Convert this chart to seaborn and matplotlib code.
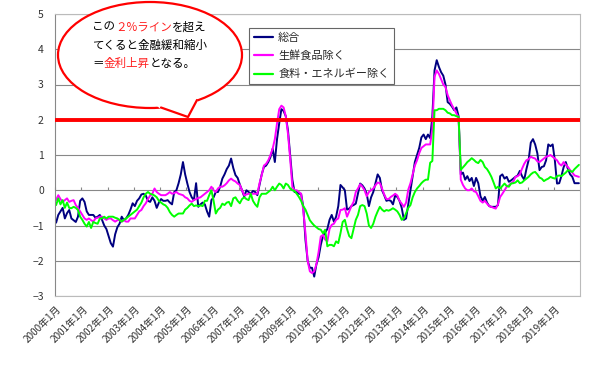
import numpy as np
import pandas as pd
import seaborn as sns
import matplotlib.pyplot as plt
from matplotlib.patches import Ellipse, Polygon
from matplotlib.lines import Line2D

# CPI YoY (%), monthly Jan 2000 - Dec 2019
years = list(range(2000, 2020))
series_names = ['総合', '生鮮食品除く', '食料・エネルギー除く']

headline = [
    -0.92, -0.7, -0.6, -0.5, -0.8, -0.65, -0.56, -0.8, -0.85, -0.9, -0.75, -0.3,
    -0.23, -0.33, -0.6, -0.7, -0.7, -0.7, -0.78, -0.75, -0.7, -0.84, -1.0, -1.1,
    -1.3, -1.5, -1.6, -1.25, -1.05, -0.95, -0.75, -0.85, -0.8, -0.7, -0.55, -0.37,
    -0.45, -0.3, -0.23, -0.12, -0.1, -0.15, -0.3, -0.33, -0.2, -0.3, -0.5, -0.35,
    -0.25, -0.3, -0.3, -0.28, -0.35, -0.4, -0.05, 0.0, 0.2, 0.45, 0.8, 0.45,
    0.19, -0.05, -0.2, -0.28, 0.2, -0.47, -0.4, -0.35, -0.4, -0.6, -0.75, -0.28,
    -0.2, -0.05, -0.05, 0.1, 0.33, 0.45, 0.6, 0.7, 0.9, 0.63, 0.43, 0.35,
    0.16, 0.0, -0.18, 0.0, -0.05, -0.1, -0.02, -0.05, -0.14, 0.15, 0.45, 0.66,
    0.7, 0.8, 0.94, 1.18, 0.8, 1.45, 1.9, 2.3, 2.25, 2.1, 1.7, 1.0,
    0.3, -0.05, -0.05, -0.1, -0.1, -0.47, -1.41, -2.0, -2.2, -2.2, -2.45, -2.1,
    -1.9, -1.55, -1.3, -1.2, -1.1, -0.84, -0.7, -0.89, -0.75, -0.45, 0.15, 0.08,
    0.0, -0.55, -0.52, -0.45, -0.42, -0.38, -0.1, 0.19, 0.14, 0.05, -0.1, -0.45,
    -0.2, -0.05, 0.2, 0.45, 0.35, 0.0, -0.14, -0.3, -0.28, -0.3, -0.4, -0.15,
    -0.19, -0.3, -0.5, -0.84, -0.8, -0.4, 0.0, 0.4, 0.8, 1.0, 1.2, 1.5,
    1.58, 1.45, 1.58, 1.48, 2.1, 3.4, 3.69, 3.5, 3.35, 3.25, 3.0, 2.5,
    2.45, 2.37, 2.27, 2.35, 2.1, 0.45, 0.5, 0.3, 0.4, 0.26, 0.35, 0.12,
    0.35, 0.2, -0.17, -0.3, -0.19, -0.35, -0.45, -0.47, -0.47, -0.47, -0.42, 0.4,
    0.45, 0.33, 0.38, 0.24, 0.28, 0.33, 0.38, 0.42, 0.55, 0.4, 0.3, 0.6,
    0.85, 1.35, 1.45, 1.3, 1.05, 0.57, 0.66, 0.68, 0.85, 1.3, 1.25, 1.3,
    0.85, 0.19, 0.2, 0.4, 0.65, 0.8, 0.6, 0.45, 0.38, 0.2, 0.2, 0.2,
]

core = [
    -0.28, -0.14, -0.25, -0.33, -0.28, -0.23, -0.33, -0.3, -0.28, -0.42, -0.5, -0.6,
    -0.7, -0.8, -0.84, -0.8, -0.85, -0.89, -0.8, -0.78, -0.75, -0.75, -0.8, -0.84,
    -0.8, -0.8, -0.85, -0.89, -0.85, -0.84, -0.89, -0.85, -0.89, -0.89, -0.8, -0.8,
    -0.8, -0.7, -0.6, -0.56, -0.45, -0.37, -0.25, -0.15, -0.1, 0.05, -0.05, -0.1,
    -0.14, -0.14, -0.14, -0.1, -0.05, -0.1, -0.08, -0.05, -0.1, -0.12, -0.14, -0.2,
    -0.23, -0.3, -0.33, -0.28, -0.25, -0.22, -0.2, -0.15, -0.1, -0.05, 0.0, 0.1,
    0.0, -0.05, 0.05, 0.1, 0.1, 0.14, 0.2, 0.28, 0.33, 0.28, 0.25, 0.19,
    0.15, 0.0, -0.14, -0.12, -0.1, -0.1, -0.1, -0.1, -0.1, 0.2, 0.43, 0.7,
    0.75, 0.85, 1.0, 1.18, 1.45, 1.9, 2.3, 2.4, 2.35, 2.1, 1.6, 0.9,
    0.1, 0.0, 0.0, -0.05, -0.1, -0.57, -1.22, -2.0, -2.3, -2.35, -2.3, -2.1,
    -1.75, -1.31, -1.27, -1.4, -1.45, -1.1, -0.98, -0.95, -0.84, -0.8, -0.56, -0.55,
    -0.51, -0.75, -0.6, -0.45, -0.33, -0.05, 0.05, 0.17, 0.1, 0.0, -0.17, -0.05,
    0.0, 0.05, 0.14, 0.22, 0.2, 0.05, -0.12, -0.25, -0.25, -0.19, -0.15, -0.1,
    -0.15, -0.3, -0.38, -0.47, -0.35, 0.02, 0.2, 0.45, 0.7, 0.85, 1.05, 1.2,
    1.25, 1.3, 1.3, 1.3, 1.72, 3.22, 3.4, 3.3, 3.15, 3.0, 2.93, 2.7,
    2.55, 2.41, 2.3, 2.18, 2.07, 0.3, 0.15, 0.05, 0.0, 0.0, 0.05, -0.03,
    -0.05, -0.17, -0.3, -0.35, -0.3, -0.38, -0.45, -0.47, -0.5, -0.52, -0.4, -0.19,
    -0.1, 0.0, 0.1, 0.14, 0.2, 0.24, 0.38, 0.4, 0.45, 0.61, 0.75, 0.85,
    0.88, 0.95, 0.92, 0.9, 0.82, 0.8, 0.85, 0.9, 0.95, 0.97, 1.0, 0.95,
    0.9, 0.85, 0.75, 0.7, 0.8, 0.72, 0.66, 0.57, 0.5, 0.42, 0.4, 0.38,
]

core_core = [
    -0.42, -0.23, -0.4, -0.28, -0.5, -0.35, -0.5, -0.51, -0.47, -0.5, -0.56, -0.75,
    -0.84, -0.95, -1.03, -0.9, -1.07, -0.9, -0.93, -0.95, -0.8, -0.8, -0.75, -0.8,
    -0.75, -0.75, -0.75, -0.78, -0.8, -0.84, -0.89, -0.84, -0.8, -0.75, -0.7, -0.65,
    -0.6, -0.55, -0.45, -0.35, -0.2, -0.1, -0.05, -0.1, -0.12, -0.15, -0.2, -0.3,
    -0.35, -0.4, -0.43, -0.5, -0.62, -0.7, -0.75, -0.7, -0.66, -0.66, -0.66, -0.55,
    -0.5, -0.43, -0.38, -0.45, -0.43, -0.45, -0.43, -0.45, -0.3, -0.3, -0.14, 0.0,
    -0.3, -0.66, -0.55, -0.5, -0.38, -0.42, -0.35, -0.33, -0.45, -0.23, -0.2, -0.3,
    -0.37, -0.25, -0.2, -0.25, -0.28, -0.1, -0.3, -0.4, -0.47, -0.2, -0.1, -0.1,
    -0.1, -0.05, 0.0, 0.1, 0.0, 0.1, 0.19, 0.15, 0.05, 0.19, 0.15, 0.05,
    0.0, -0.02, -0.1, -0.19, -0.3, -0.45, -0.55, -0.7, -0.85, -0.93, -1.0, -1.05,
    -1.1, -1.12, -1.22, -1.12, -1.59, -1.55, -1.55, -1.59, -1.45, -1.5, -1.22, -0.9,
    -0.84, -1.1, -1.3, -1.36, -1.1, -0.84, -0.7, -0.45, -0.42, -0.45, -0.66, -1.0,
    -1.07, -0.95, -0.75, -0.6, -0.47, -0.55, -0.6, -0.56, -0.58, -0.55, -0.51, -0.55,
    -0.6, -0.7, -0.84, -0.8, -0.65, -0.5, -0.42, -0.2, -0.05, 0.05, 0.12, 0.2,
    0.26, 0.3, 0.3, 0.78, 0.83, 2.27, 2.27, 2.31, 2.31, 2.31, 2.27, 2.2,
    2.18, 2.13, 2.13, 2.1, 2.08, 0.58, 0.65, 0.72, 0.8, 0.85, 0.91, 0.86,
    0.8, 0.77, 0.86, 0.8, 0.66, 0.6, 0.5, 0.38, 0.22, 0.05, 0.1, 0.05,
    0.12, 0.19, 0.12, 0.1, 0.19, 0.2, 0.22, 0.28, 0.2, 0.22, 0.28, 0.33,
    0.38, 0.45, 0.5, 0.52, 0.45, 0.36, 0.33, 0.26, 0.3, 0.33, 0.38, 0.35,
    0.33, 0.4, 0.42, 0.4, 0.45, 0.5, 0.57, 0.55, 0.52, 0.6, 0.66, 0.72,
]

colors = ['#000080', '#FF00FF', '#00FF00']
tick_labels = [f'{y}年1月' for y in years]

sns.set_style('white')
plt.rcParams['font.family'] = ['Noto Sans CJK JP', 'DejaVu Sans']

months = np.arange(len(headline))
df = pd.DataFrame({
    'm': np.tile(months, 3),
    'value': headline + core + core_core,
    'series': np.repeat(series_names, len(months)),
})

fig = plt.figure(figsize=(6.0, 3.73), dpi=100)
ax = fig.add_axes([55 / 600, 1 - 296 / 373, 525 / 600, 282 / 373])

sns.lineplot(data=df, x='m', y='value', hue='series', hue_order=series_names,
             palette=colors, linewidth=1.4, ax=ax, legend=False)

ax.axhline(2, color='#FF0000', linewidth=2.8, zorder=4)

ax.set_xlim(-0.5, len(months) - 0.5)
ax.set_ylim(-3, 5)
ax.set_yticks(range(-3, 6))
ax.yaxis.grid(True, color='#888888', linewidth=0.8)
ax.set_axisbelow(True)
ax.set_xlabel('')
ax.set_ylabel('')
ax.set_xticks(months[::12])
ax.set_xticklabels(tick_labels, rotation=45, ha='right', rotation_mode='anchor',
                   fontsize=7.2, color='#333333')
ax.tick_params(axis='x', length=0, pad=6)
ax.tick_params(axis='y', length=0, pad=8, labelsize=7.5, labelcolor='#333333')
for s in ax.spines.values():
    s.set_color('#BBBBBB')
    s.set_linewidth(0.8)
ax.spines['left'].set_color('#888888')

# small category ticks on the zero line
sec = ax.secondary_xaxis(3 / 8)
sec.set_xticks(months[::12] - 0.5)
sec.set_xticklabels([])
sec.tick_params(axis='x', direction='in', length=2, color='#888888')
sec.spines['bottom'].set_visible(False)
sec.spines['top'].set_visible(False)

handles = [Line2D([0], [0], color=c, linewidth=1.6) for c in colors]
leg = ax.legend(handles, series_names, loc='upper left',
                bbox_to_anchor=(0.369, 0.952), borderaxespad=0,
                fontsize=8.0, frameon=True, fancybox=False, framealpha=1,
                edgecolor='#666666', handlelength=1.7, handletextpad=0.5,
                labelspacing=0.7, borderpad=0.45)
leg.get_frame().set_linewidth(0.8)


# speech bubble (figure pixel coords)
def px(x, y):
    return (x / 600, 1 - y / 373)


ell = Ellipse(px(150, 55), 184 / 600, 106 / 373, transform=fig.transFigure,
              facecolor='white', edgecolor='#FF0000', linewidth=1.6, zorder=10)
fig.add_artist(ell)
tail = Polygon([px(150, 100), px(160, 108.5), px(188, 117), px(198, 101), px(196, 94)],
               closed=True, transform=fig.transFigure, facecolor='white',
               edgecolor='none', zorder=11)
fig.add_artist(tail)
tx, ty = zip(*[px(161, 107.5), px(188, 117), px(197, 100)])
fig.add_artist(Line2D(tx, ty, transform=fig.transFigure, color='#FF0000',
                      linewidth=1.6, zorder=12))

renderer = fig.canvas.get_renderer()
lines = [
    [('この', 'black'), ('２%ライン', '#FF2020'), ('を超え', 'black')],
    [('てくると金融緩和縮小', 'black')],
    [('＝', 'black'), ('金利上昇', '#FF2020'), ('となる。', 'black')],
]
for i, parts in enumerate(lines):
    x = 92
    y = 27 + i * 18
    for txt, col in parts:
        t = fig.text(*px(x, y), txt, color=col, fontsize=8.3, va='center',
                     ha='left', zorder=13)
        bb = t.get_window_extent(renderer)
        x += bb.width

fig.savefig('out.png', dpi=100, facecolor='white')
